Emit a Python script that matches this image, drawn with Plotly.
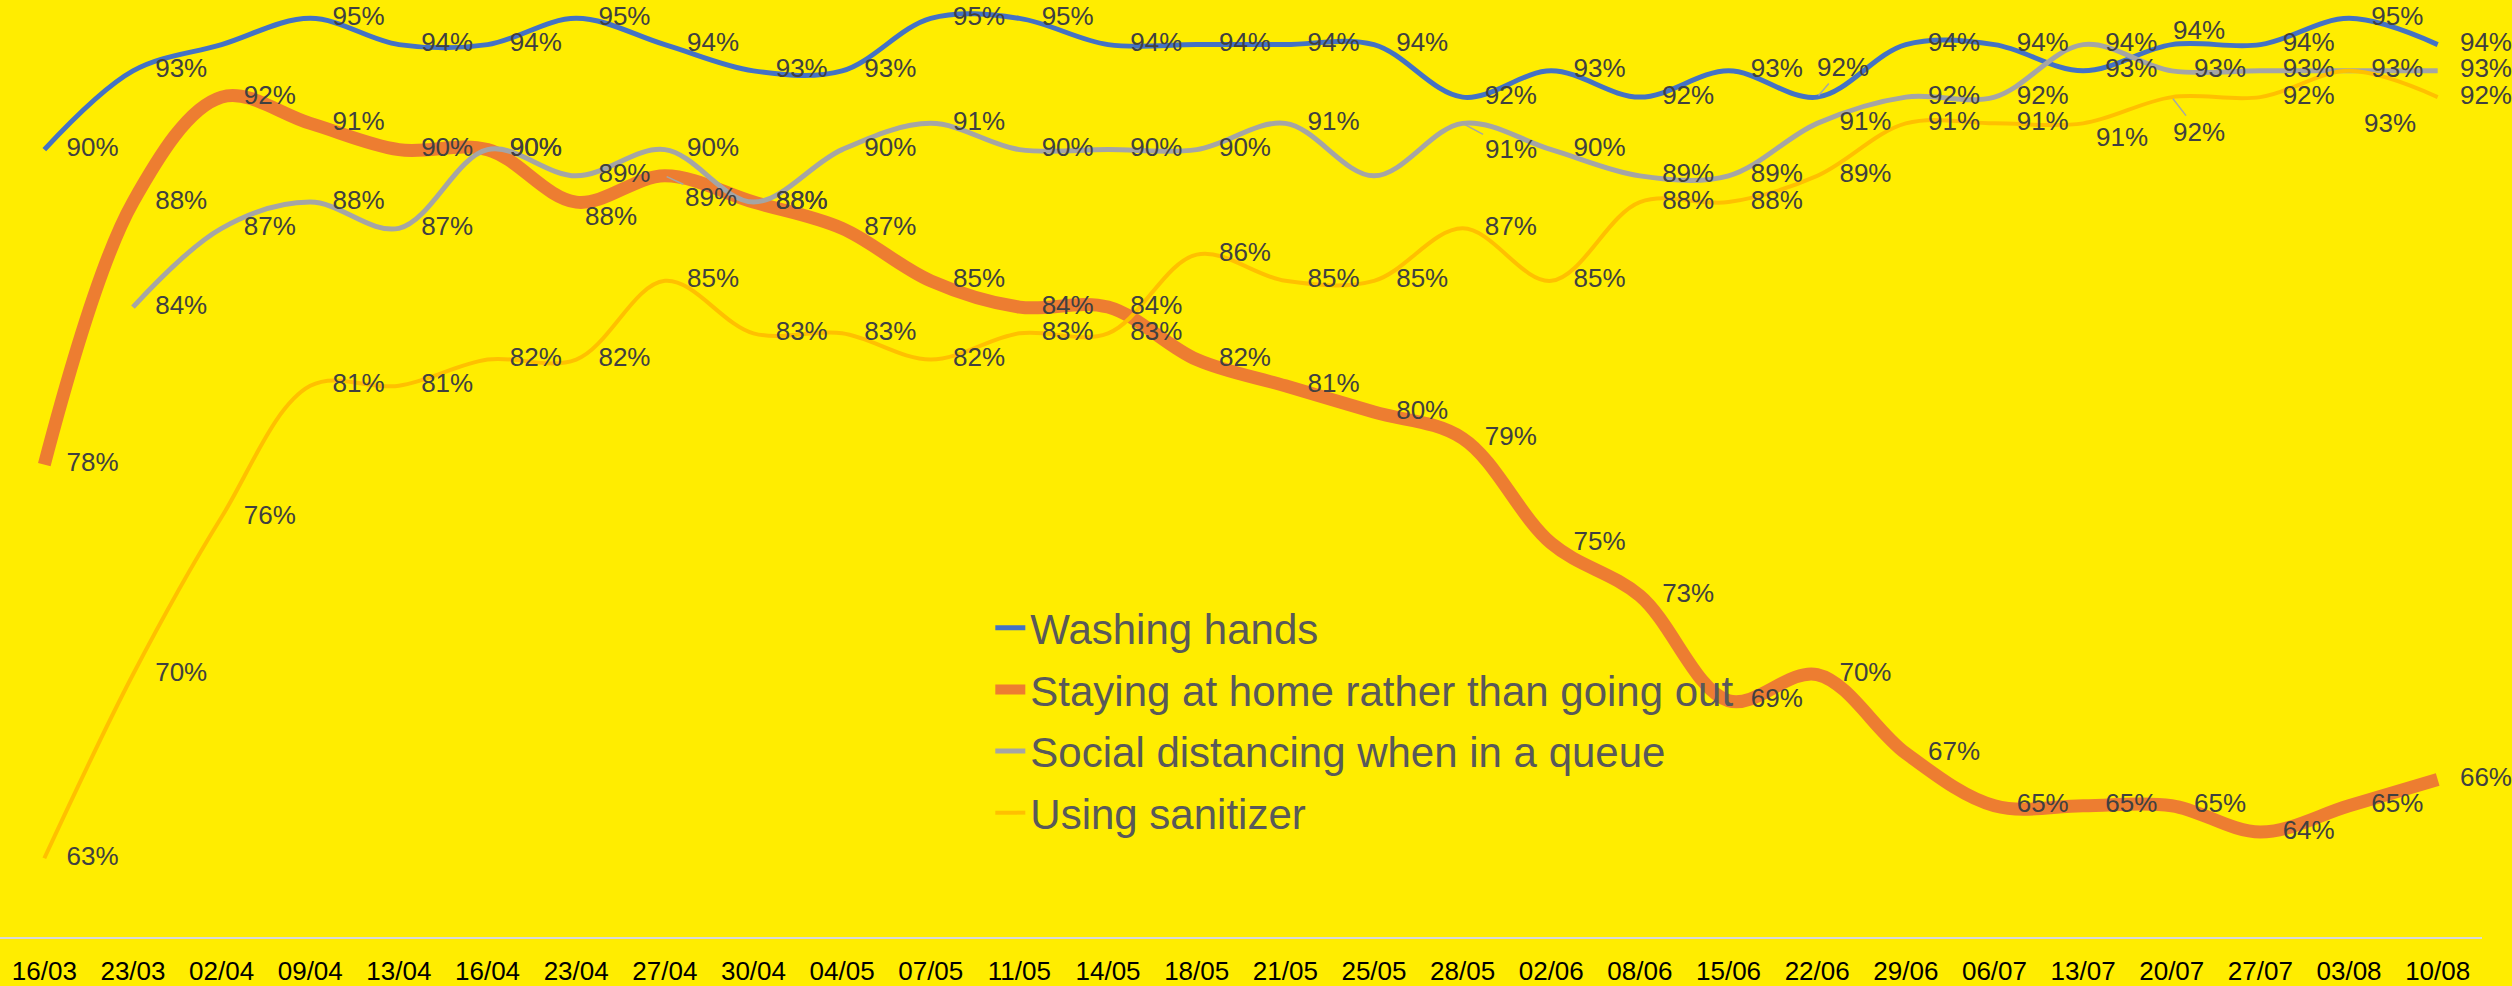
import plotly.graph_objects as go

# ---------------- data ----------------
categories = ["16/03", "23/03", "02/04", "09/04", "13/04", "16/04", "23/04", "27/04",
              "30/04", "04/05", "07/05", "11/05", "14/05", "18/05", "21/05", "25/05",
              "28/05", "02/06", "08/06", "15/06", "22/06", "29/06", "06/07", "13/07",
              "20/07", "27/07", "03/08", "10/08"]

washing_hands = [90, 93, 94, 95, 94, 94, 95, 94, 93, 93, 95, 95, 94, 94,
                 94, 94, 92, 93, 92, 93, 92, 94, 94, 93, 94, 94, 95, 94]
staying_home = [78, 88, 92, 91, 90, 90, 88, 89, 88, 87, 85, 84, 84, 82,
                81, 80, 79, 75, 73, 69, 70, 67, 65, 65, 65, 64, 65, 66]
social_distancing = [None, 84, 87, 88, 87, 90, 89, 90, 88, 90, 91, 90, 90, 90,
                     91, 89, 91, 90, 89, 89, 91, 92, 92, 94, 93, 93, 93, 93]
using_sanitizer = [63, 70, 76, 81, 81, 82, 82, 85, 83, 83, 82, 83, 83, 86,
                   85, 85, 87, 85, 88, 88, 89, 91, 91, 91, 92, 92, 93, 92]

series_names = ["Washing hands", "Staying at home rather than going out",
                "Social distancing when in a queue", "Using sanitizer"]
series_values = [washing_hands, staying_home, social_distancing, using_sanitizer]

# ---------------- style ----------------
FONT = "Arial, 'Liberation Sans', sans-serif"
BG = "#FFED00"
colors = ["#4472C4", "#ED7D31", "#A5A5A5", "#FFC000"]
widths = [5, 13, 5, 4]
LABEL_COLOR = "#404040"
LABEL_SIZE = 26

# label tweaks: (series, point) -> None (hidden) or (dx, dy, leader line) in pixels
label_moves = {
    (0, 2): None,
    (0, 20): (26, -30, True),
    (0, 24): (27, -15, False),
    (1, 6): (35, 14, False),
    (1, 7): (46, 21, True),
    (2, 16): (48, 26, True),
    (3, 23): (39, 14, False),
    (3, 24): (27, 35, True),
    (3, 26): (41, 52, True),
}

fig = go.Figure()

# lines (drawn first, in legend)
for s, (name, vals) in enumerate(zip(series_names, series_values)):
    fig.add_trace(go.Scatter(
        x=categories, y=vals, name=name, mode="lines", legendgroup=name,
        line=dict(color=colors[s], width=widths[s], shape="spline", smoothing=1.0),
        hoverinfo="skip", showlegend=True,
    ))

annotations = []
# data labels (drawn on top of all lines)
for s, vals in enumerate(series_values):
    texts = []
    for i, v in enumerate(vals):
        if v is None or (s, i) in label_moves:
            texts.append("")
        else:
            texts.append(f"{v}%")
        mv = label_moves.get((s, i), "none")
        if v is not None and mv not in ("none", None):
            dx, dy, leader = mv
            common = dict(x=categories[i], y=v, text=f"{v}%", xref="x", yref="y",
                          font=dict(family=FONT, size=LABEL_SIZE, color=LABEL_COLOR))
            if leader:
                annotations.append(dict(**common, showarrow=True, ax=dx, ay=dy,
                                        arrowhead=0, arrowwidth=1.5,
                                        arrowcolor="#A6A6A6", standoff=2))
            else:
                annotations.append(dict(**common, showarrow=False,
                                        xshift=dx, yshift=-dy))
    fig.add_trace(go.Scatter(
        x=categories, y=vals, mode="markers+text", text=texts,
        textposition="middle right",
        textfont=dict(family=FONT, size=LABEL_SIZE, color=LABEL_COLOR),
        marker=dict(size=34, color="rgba(0,0,0,0)"),
        cliponaxis=False, hoverinfo="skip", showlegend=False,
    ))

fig.update_layout(
    width=2512, height=986,
    margin=dict(l=0, r=30, t=0, b=46),
    paper_bgcolor=BG, plot_bgcolor=BG,
    font=dict(family=FONT),
    showlegend=True,
    legend=dict(
        x=0.399, y=0.366, xanchor="left", yanchor="top",
        bgcolor="rgba(0,0,0,0)", borderwidth=0,
        font=dict(family=FONT, size=42, color="#595959"),
        traceorder="grouped", tracegroupgap=4,
    ),
    annotations=annotations,
)
fig.update_xaxes(
    type="category", range=[-0.5, len(categories) - 0.5],
    showgrid=False, zeroline=False,
    showline=True, linecolor="#D9D9D9", linewidth=2,
    ticks="", tickfont=dict(family=FONT, size=26, color="#000000"),
    ticklabelstandoff=10,
)
fig.update_yaxes(
    range=[60, 95.7], showgrid=False, zeroline=False, showline=False,
    showticklabels=False, ticks="",
)

fig.write_html("out.html", config={"displayModeBar": False},
               post_script="document.body.style.margin='0';document.body.style.overflow='hidden';")
